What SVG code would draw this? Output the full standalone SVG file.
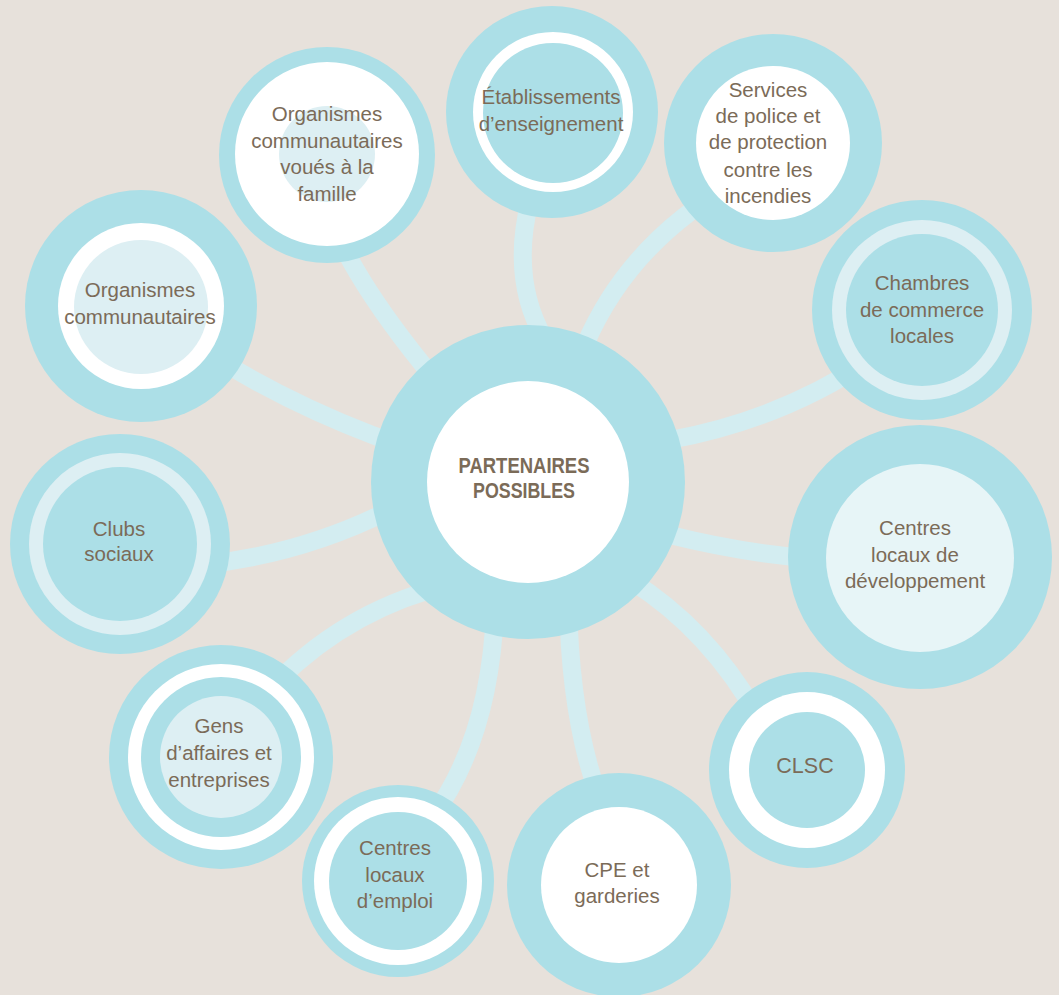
<svg xmlns="http://www.w3.org/2000/svg" width="1059" height="995" viewBox="0 0 1059 995">
<style>
.bg{fill:#e7e1db}
.b{fill:#acdfe7}
.w{fill:#ffffff}
.p{fill:#ddeff3}
.pp{fill:#e7f5f7}
.c{fill:none;stroke:#d3edf1;stroke-width:18;stroke-linecap:butt}
text{font-family:"Liberation Sans",Arial,sans-serif;font-size:20.5px;fill:#7b6b58;text-anchor:middle}
.t{font-weight:bold;font-size:22px}
</style>
<rect class="bg" x="0" y="0" width="1059" height="995"/>
<g id="connectors">
<path class="c" d="M141,306 Q300,430 528,482"/>
<path class="c" d="M335,230 Q380,330 528,482"/>
<path class="c" d="M530,200 Q510,280 545,340"/>
<path class="c" d="M740,180 Q630,240 585,345"/>
<path class="c" d="M870,360 Q780,420 670,440"/>
<path class="c" d="M830,560 Q750,555 670,535"/>
<path class="c" d="M760,720 Q710,630 630,580"/>
<path class="c" d="M600,800 Q570,720 568,600"/>
<path class="c" d="M430,820 Q490,740 495,610"/>
<path class="c" d="M260,700 Q330,620 430,590"/>
<path class="c" d="M200,565 Q300,555 390,510"/>
</g>
<g id="center">
<circle class="b" cx="528" cy="482" r="157"/>
<circle class="w" cx="528" cy="482" r="101"/>
<text class="t" x="524" y="473" textLength="131" lengthAdjust="spacingAndGlyphs">PARTENAIRES</text>
<text class="t" x="524" y="498" textLength="102" lengthAdjust="spacingAndGlyphs">POSSIBLES</text>
</g>
<g id="org-comm">
<circle class="b" cx="141" cy="306" r="116"/>
<circle class="w" cx="141" cy="306" r="83"/>
<circle class="p" cx="141" cy="307" r="67"/>
<text x="140" y="297">Organismes</text>
<text x="140" y="324">communautaires</text>
</g>
<g id="org-famille">
<circle class="b" cx="327" cy="155" r="108"/>
<circle class="w" cx="327" cy="154" r="92"/>
<circle class="p" cx="327" cy="154" r="48"/>
<text x="327" y="121">Organismes</text>
<text x="327" y="148">communautaires</text>
<text x="327" y="174">voués à la</text>
<text x="327" y="201">famille</text>
</g>
<g id="etablissements">
<circle class="b" cx="552" cy="112" r="106"/>
<circle class="w" cx="553" cy="112" r="80"/>
<circle class="b" cx="553" cy="113" r="70"/>
<text x="551" y="104">Établissements</text>
<text x="551" y="131">d’enseignement</text>
</g>
<g id="police">
<circle class="b" cx="773" cy="143" r="109"/>
<circle class="w" cx="773" cy="143" r="77"/>
<text x="768" y="97">Services</text>
<text x="768" y="123">de police et</text>
<text x="768" y="149">de protection</text>
<text x="768" y="177">contre les</text>
<text x="768" y="203">incendies</text>
</g>
<g id="chambres">
<circle class="b" cx="922" cy="310" r="110"/>
<circle class="p" cx="922" cy="310" r="90"/>
<circle class="b" cx="922" cy="310" r="76"/>
<text x="922" y="290">Chambres</text>
<text x="922" y="317">de commerce</text>
<text x="922" y="343">locales</text>
</g>
<g id="cld">
<circle class="b" cx="920" cy="557" r="132"/>
<circle class="pp" cx="920" cy="558" r="94"/>
<text x="915" y="535">Centres</text>
<text x="915" y="562">locaux de</text>
<text x="915" y="588">développement</text>
</g>
<g id="clsc">
<circle class="b" cx="807" cy="770" r="98"/>
<circle class="w" cx="807" cy="770" r="78"/>
<circle class="b" cx="807" cy="770" r="58"/>
<text x="805" y="773" style="font-size:21.5px">CLSC</text>
</g>
<g id="cpe">
<circle class="b" cx="619" cy="885" r="112"/>
<circle class="w" cx="619" cy="885" r="78"/>
<text x="617" y="877">CPE et</text>
<text x="617" y="903">garderies</text>
</g>
<g id="emploi">
<circle class="b" cx="398" cy="881" r="96"/>
<circle class="w" cx="398" cy="881" r="84"/>
<circle class="b" cx="398" cy="881" r="69"/>
<text x="395" y="855">Centres</text>
<text x="395" y="882">locaux</text>
<text x="395" y="908">d’emploi</text>
</g>
<g id="gens">
<circle class="b" cx="221" cy="757" r="112"/>
<circle class="w" cx="221" cy="757" r="93"/>
<circle class="b" cx="221" cy="757" r="80"/>
<circle class="p" cx="221" cy="757" r="61"/>
<text x="219" y="733">Gens</text>
<text x="219" y="760">d’affaires et</text>
<text x="219" y="787">entreprises</text>
</g>
<g id="clubs">
<circle class="b" cx="120" cy="544" r="110"/>
<circle class="p" cx="120" cy="544" r="91"/>
<circle class="b" cx="120" cy="544" r="77"/>
<text x="119" y="536">Clubs</text>
<text x="119" y="561">sociaux</text>
</g>
</svg>
